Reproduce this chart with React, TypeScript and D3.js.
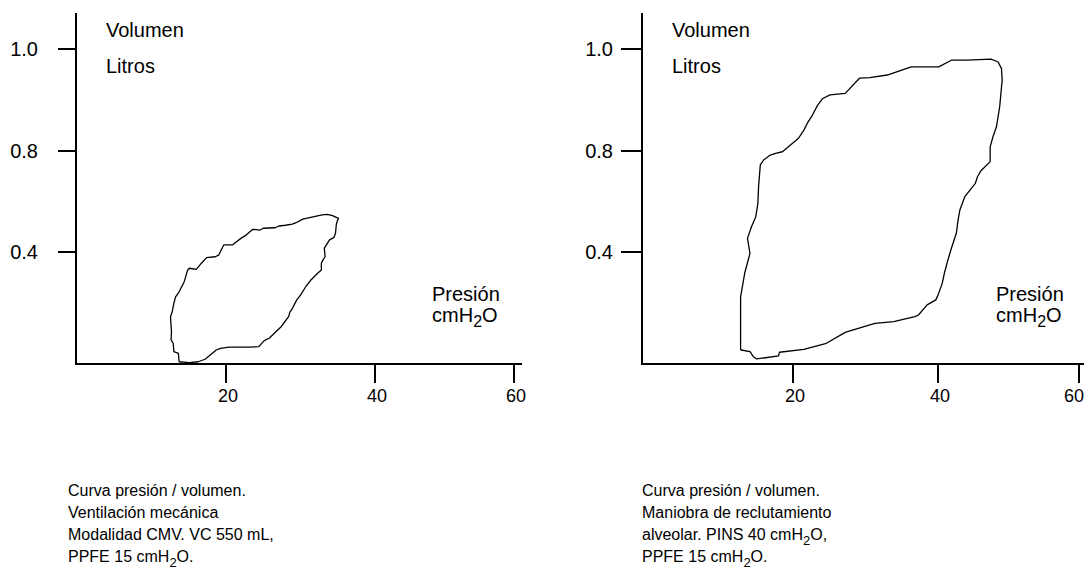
import React from "react";
import * as d3 from "d3";

// ---- data ----
const xTickValues = [20, 40, 60];
const yTickValues = [1.0, 0.8, 0.4];
const yTickLabels = ["1.0", "0.8", "0.4"];

// Left loop: CMV ventilation (pressure cmH2O, volume L)
const cmvPressure = [
  13.75, 13.65, 13.05, 12.96, 12.68, 12.73, 12.6, 12.83, 13.05, 13.28,
  13.75, 14.43, 14.89, 15.12, 16.04, 16.72, 17.41, 18.56, 19.03, 19.48,
  19.71, 20.86, 21.1, 22.0, 22.7, 23.6, 24.56, 25.0, 26.6, 27.1,
  28.0, 28.9, 29.4, 30.3, 32.9, 33.6, 34.3, 35.1, 34.9, 34.8,
  34.7, 34.5, 33.9, 33.2, 33.3, 33.0, 32.8, 32.8, 32.3, 31.4,
  30.7, 30.0, 29.5, 28.8, 28.6, 28.4, 27.4, 26.7, 25.8, 25.3,
  25.0, 24.4, 22.95, 20.4, 19.25, 18.7, 17.9, 17.2, 16.3, 15.1,
];
const cmvVolume = [
  0.008, 0.038, 0.044, 0.074, 0.086, 0.115, 0.169, 0.187, 0.217, 0.24,
  0.258, 0.294, 0.336, 0.342, 0.338, 0.36, 0.38, 0.383, 0.389, 0.415,
  0.428, 0.428, 0.434, 0.454, 0.467, 0.49, 0.487, 0.494, 0.496, 0.503,
  0.506, 0.51, 0.516, 0.53, 0.547, 0.549, 0.544, 0.533, 0.52, 0.507,
  0.474, 0.458, 0.448, 0.415, 0.383, 0.371, 0.36, 0.336, 0.324, 0.3,
  0.276, 0.246, 0.229, 0.193, 0.187, 0.169, 0.133, 0.115, 0.092, 0.086,
  0.08, 0.062, 0.06, 0.06, 0.056, 0.05, 0.032, 0.017, 0.008, 0.005,
];

// Right loop: recruitment maneuver
const recruitPressure = [
  13.06, 13.06, 13.6, 14.3, 13.97, 14.5, 15.07, 15.35, 15.44, 15.67,
  16.1, 17.0, 17.7, 18.6, 20.76, 21.5, 21.96, 22.7, 23.4, 24.1,
  25.1, 27.2, 29.2, 30.6, 33.0, 36.3, 40.1, 41.9, 44.1, 47.5,
  48.5, 49.0, 49.1, 48.75, 48.3, 47.8, 47.4, 47.4, 46.1, 45.6,
  45.3, 43.8, 43.1, 42.85, 42.6, 41.9, 41.4, 40.9, 40.6, 40.0,
  39.7, 38.5, 37.3, 36.8, 33.9, 31.3, 28.2, 27.2, 24.6, 21.5,
  18.2, 18.1, 15.2, 14.75, 14.3, 13.15,
];
const recruitVolume = [
  0.052, 0.24, 0.324, 0.395, 0.454, 0.5, 0.54, 0.593, 0.659, 0.745,
  0.764, 0.784, 0.791, 0.797, 0.825, 0.841, 0.854, 0.871, 0.89, 0.903,
  0.91, 0.913, 0.943, 0.944, 0.949, 0.965, 0.965, 0.978, 0.978, 0.98,
  0.975, 0.962, 0.939, 0.887, 0.848, 0.828, 0.808, 0.758, 0.722, 0.698,
  0.672, 0.619, 0.566, 0.527, 0.474, 0.415, 0.371, 0.324, 0.288, 0.246,
  0.229, 0.211, 0.175, 0.169, 0.151, 0.145, 0.121, 0.113, 0.074, 0.052,
  0.042, 0.029, 0.018, 0.026, 0.044, 0.05,
];

const yLabelTop = "Volumen";
const yLabelBottom = "Litros";
const xLabelTop = "Presión";
const xLabelBottom = "cmH2O";

const captionCMV = [
  "Curva presión / volumen.",
  "Ventilación mecánica",
  "Modalidad CMV. VC 550 mL,",
  "PPFE 15 cmH2O.",
];
const captionRecruit = [
  "Curva presión / volumen.",
  "Maniobra de reclutamiento",
  "alveolar. PINS 40 cmH2O,",
  "PPFE 15 cmH2O.",
];

const FONT = "'Liberation Sans', Arial, Helvetica, sans-serif";
const WIDTH = 1084;
const HEIGHT = 569;

function withSub(str: string, subSize: number) {
  const parts = str.split("H2O");
  const out: React.ReactNode[] = [];
  parts.forEach((p, i) => {
    out.push(<tspan key={"p" + i}>{p}</tspan>);
    if (i < parts.length - 1) {
      out.push(<tspan key={"h" + i}>H</tspan>);
      out.push(
        <tspan key={"s" + i} dy={5} fontSize={subSize}>
          2
        </tspan>
      );
      out.push(
        <tspan key={"o" + i} dy={-5}>
          O
        </tspan>
      );
    }
  });
  return out;
}

type PanelProps = {
  pressure: number[];
  volume: number[];
  caption: string[];
  xRange: number[];
  axisEnd: number;
  yLabelX: number;
  tickStart: number;
  volX: number;
  presX: number;
  capX: number;
};

function Panel(props: PanelProps) {
  const { pressure, volume, caption, xRange, axisEnd, yLabelX, tickStart, volX, presX, capX } = props;
  const x = d3.scaleLinear().domain([0, 20, 40, 60]).range(xRange);
  const y = d3.scaleLinear().domain([0, 0.4, 0.8, 1.0]).range([364, 252, 151, 49]);
  const x0 = x(0);
  const y0 = y(0);
  const pts: [number, number][] = pressure.map((p, i) => [p, volume[i]]);
  const line = d3
    .line<[number, number]>()
    .x((d) => x(d[0]))
    .y((d) => y(d[1]))
    .curve(d3.curveLinearClosed);

  return (
    <g fontFamily={FONT} fill="#000">
      {/* axes */}
      <line x1={x0} x2={x0} y1={13} y2={y0 + 1} stroke="#000" strokeWidth={2} />
      <line x1={x0 - 1} x2={axisEnd} y1={y0} y2={y0} stroke="#000" strokeWidth={2} />
      {xTickValues.map((v) => (
        <g key={v}>
          <line x1={x(v)} x2={x(v)} y1={y0} y2={y0 + 19} stroke="#000" strokeWidth={2} />
          <text x={Math.min(x(v) + 2, WIDTH - 10)} y={402} fontSize={18} textAnchor="middle">
            {v}
          </text>
        </g>
      ))}
      {yTickValues.map((v, i) => (
        <g key={v}>
          <line x1={tickStart} x2={x0} y1={y(v)} y2={y(v)} stroke="#000" strokeWidth={2} />
          <text x={yLabelX} y={y(v) + 7} fontSize={20} textAnchor="end">
            {yTickLabels[i]}
          </text>
        </g>
      ))}
      <text x={volX} y={37} fontSize={20}>
        {yLabelTop}
      </text>
      <text x={volX} y={73} fontSize={20}>
        {yLabelBottom}
      </text>
      <text x={presX} y={301} fontSize={20}>
        {xLabelTop}
      </text>
      <text x={presX} y={322} fontSize={20}>
        {withSub(xLabelBottom, 16)}
      </text>
      <path d={line(pts) || ""} fill="none" stroke="#000" strokeWidth={1.3} strokeLinejoin="round" />
      {caption.map((c, i) => (
        <text key={i} x={capX} y={496 + i * 22} fontSize={16}>
          {withSub(c, 13)}
        </text>
      ))}
    </g>
  );
}

export default function App() {
  return (
    <svg
      width={WIDTH}
      height={HEIGHT}
      style={{ position: "absolute", left: 0, top: 0, background: "#fff" }}
    >
      <rect width={WIDTH} height={HEIGHT} fill="#fff" />
      <Panel
        pressure={cmvPressure}
        volume={cmvVolume}
        caption={captionCMV}
        xRange={[76, 226, 375, 514]}
        axisEnd={522}
        yLabelX={38}
        tickStart={58}
        volX={106}
        presX={432}
        capX={68}
      />
      <Panel
        pressure={recruitPressure}
        volume={recruitVolume}
        caption={captionRecruit}
        xRange={[642, 793, 938, 1079]}
        axisEnd={WIDTH}
        yLabelX={613}
        tickStart={621}
        volX={672}
        presX={996}
        capX={642}
      />
    </svg>
  );
}
